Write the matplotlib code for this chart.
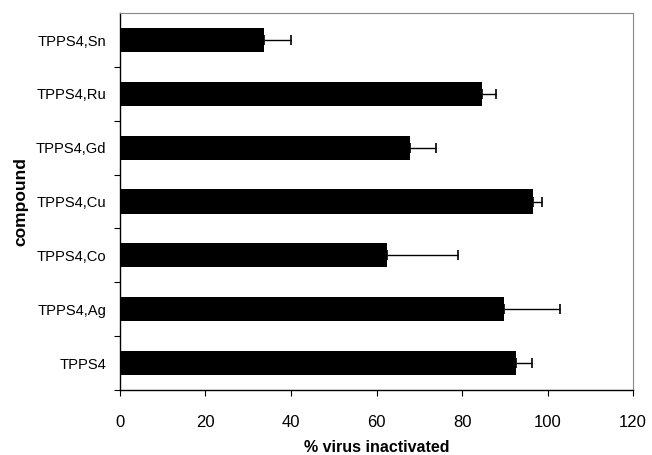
import matplotlib
matplotlib.use("Agg")
import matplotlib.pyplot as plt

compounds = ["TPPS4", "TPPS4,Ag", "TPPS4,Co", "TPPS4,Cu", "TPPS4,Gd", "TPPS4,Ru", "TPPS4,Sn"]
inactivated = [92.5, 89.7, 62.4, 96.6, 67.8, 84.7, 33.6]
err_plus = [3.8, 13.3, 16.7, 2.2, 6.0, 3.3, 6.4]
x_ticks = [0, 20, 40, 60, 80, 100, 120]

plt.rcParams['font.family'] = ['Liberation Sans', 'DejaVu Sans']

fig = plt.figure(figsize=(6.52, 4.55), dpi=100)
ax = fig.add_axes([0.184, 0.143, 0.787, 0.828])

pos = list(range(len(compounds)))
ax.barh(pos, inactivated, height=0.45, color='black', zorder=2)
ax.errorbar(inactivated, pos, xerr=[[0]*len(err_plus), err_plus], fmt='none',
            ecolor='black', elinewidth=1.0, capsize=3.5, capthick=1.2, zorder=3)

ax.set_xlim(0, 120)
ax.set_ylim(-0.5, len(compounds) - 0.5)
ax.set_xticks(x_ticks)
ax.set_xticklabels([str(t) for t in x_ticks], fontsize=12)
ax.set_yticks(pos)
ax.set_yticklabels(compounds, fontsize=10.6)
ax.set_yticks([p + 0.5 for p in pos[:-1]] + [-0.5], minor=True)
ax.tick_params(axis='y', which='major', length=0, pad=10)
ax.tick_params(axis='y', which='minor', length=4, width=0.8, direction='out')
ax.tick_params(axis='x', which='major', length=4, width=0.8, direction='out', pad=14)

ax.set_xlabel('% virus inactivated', fontsize=11.5, fontweight='bold', labelpad=7)
ax.set_ylabel('compound', fontsize=12.5, fontweight='bold', labelpad=5)

for s in ['left', 'bottom']:
    ax.spines[s].set_color('black')
    ax.spines[s].set_linewidth(1.0)
for s in ['top', 'right']:
    ax.spines[s].set_color('#888888')
    ax.spines[s].set_linewidth(0.8)

fig.savefig('out.png', dpi=100)
